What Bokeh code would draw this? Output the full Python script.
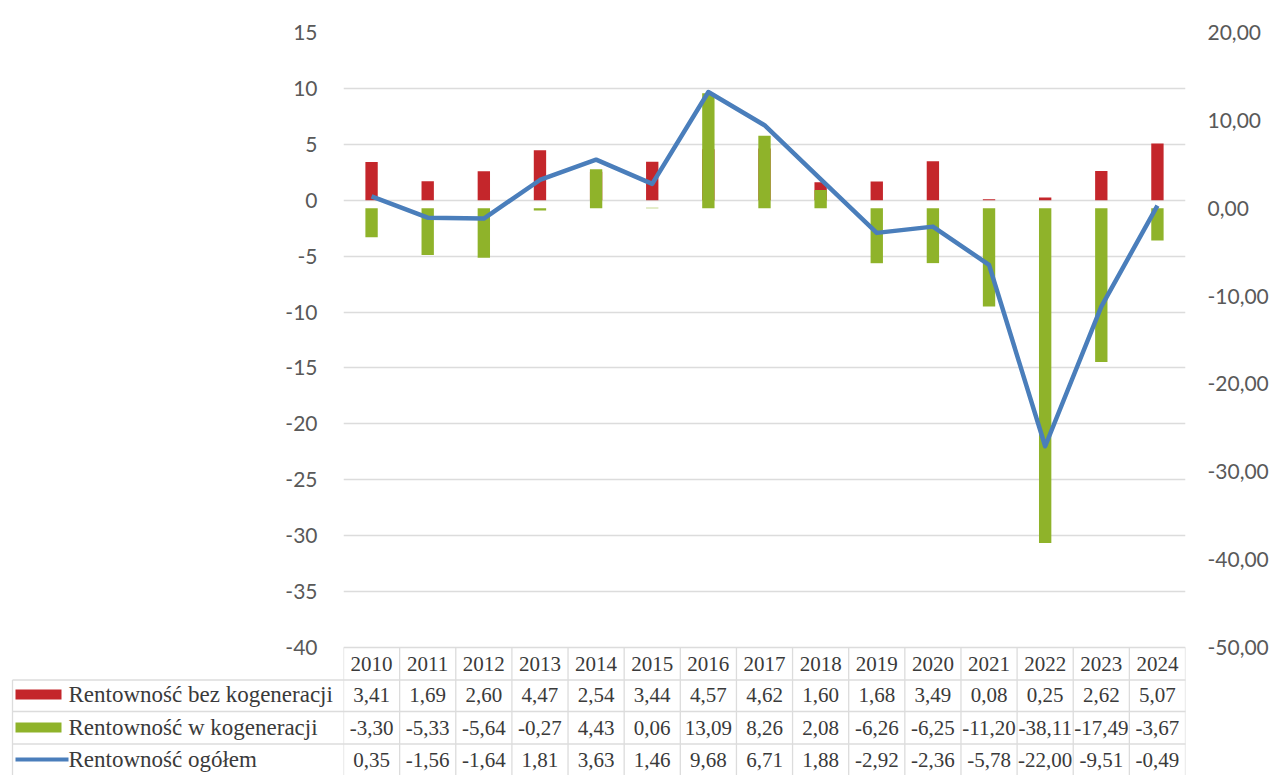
from bokeh.plotting import figure
from bokeh.models import ColumnDataSource, Range1d, LinearAxis, FixedTicker, FactorRange
from bokeh.embed import file_html
from bokeh.resources import INLINE
from bokeh.core.properties import value

# ---------------- data ----------------
years = ["2010", "2011", "2012", "2013", "2014", "2015", "2016", "2017",
         "2018", "2019", "2020", "2021", "2022", "2023", "2024"]
bez_kogeneracji = [3.41, 1.69, 2.60, 4.47, 2.54, 3.44, 4.57, 4.62, 1.60, 1.68, 3.49, 0.08, 0.25, 2.62, 5.07]
w_kogeneracji = [-3.30, -5.33, -5.64, -0.27, 4.43, 0.06, 13.09, 8.26, 2.08, -6.26, -6.25, -11.20, -38.11, -17.49, -3.67]
ogolem = [0.35, -1.56, -1.64, 1.81, 3.63, 1.46, 9.68, 6.71, 1.88, -2.92, -2.36, -5.78, -22.00, -9.51, -0.49]
series_names = ["Rentowność bez kogeneracji", "Rentowność w kogeneracji", "Rentowność ogółem"]
left_ticks = [15, 10, 5, 0, -5, -10, -15, -20, -25, -30, -35, -40]
left_tick_labels = ["15", "10", "5", "0", "-5", "-10", "-15", "-20", "-25", "-30", "-35", "-40"]
right_ticks = [20, 10, 0, -10, -20, -30, -40, -50]
right_tick_labels = ["20,00", "10,00", "0,00", "-10,00", "-20,00", "-30,00", "-40,00", "-50,00"]

# ---------------- layout constants (pixels) ----------------
W, H = 1272, 775
FL, FR = 343, 1185          # plot frame left / right
FT = 32                     # top gridline (15 / 20,00)
FB_GRID = 647               # bottom gridline (-40 / -50,00)
HEADER_Y = 663
ROW_Y = [694, 727, 759]
ROW_LINES = [679.5, 711, 743.5]
LEG_L = 12
CW = (FR - FL) / len(years)

RED = "#c4262b"
GREEN = "#8fb32a"
BLUE = "#4a7ebb"
GRID = "#dcdcdc"
AX_TXT = "#595959"
TBL_TXT = "#3a3a3a"
SERIF = "Liberation Serif"
SANS = "Lato"

lmin, lmax = left_ticks[-1], left_ticks[0]
rmin, rmax = right_ticks[-1], right_ticks[0]
lppu = (FB_GRID - FT) / (lmax - lmin)
rppu = (FB_GRID - FT) / (rmax - rmin)
left_start = lmin - (H - FB_GRID) / lppu
right_start = rmin - (H - FB_GRID) / rppu


def yl(px):
    return lmax - (px - FT) / lppu


def xc(px):
    return (px - FL) / CW


src = ColumnDataSource(dict(year=years, bez=bez_kogeneracji, wk=w_kogeneracji, og=ogolem))

p = figure(width=W, height=H, output_backend="svg", toolbar_location=None,
           x_range=FactorRange(factors=years, range_padding=0, factor_padding=0),
           y_range=Range1d(left_start, lmax),
           min_border_left=FL, min_border_right=W - FR, min_border_top=FT, min_border_bottom=0,
           x_axis_location=None)
p.extra_y_ranges = {"right": Range1d(right_start, rmax)}
p.outline_line_color = None
p.background_fill_color = "white"
p.border_fill_color = "white"
p.xgrid.visible = False
p.ygrid.ticker = FixedTicker(ticks=left_ticks)
p.ygrid.grid_line_color = GRID
p.ygrid.grid_line_width = 1.3

ax = p.yaxis[0]
ax.ticker = FixedTicker(ticks=left_ticks)
ax.major_label_overrides = {t: l for t, l in zip(left_ticks, left_tick_labels)}

rax = LinearAxis(y_range_name="right", ticker=FixedTicker(ticks=right_ticks))
rax.major_label_overrides = {t: l for t, l in zip(right_ticks, right_tick_labels)}
p.add_layout(rax, "right")

for a, stand in ((ax, 26), (rax, 22)):
    a.axis_line_color = None
    a.major_tick_line_color = None
    a.minor_tick_line_color = None
    a.major_tick_out = 0
    a.major_tick_in = 0
    a.minor_tick_out = 0
    a.major_label_standoff = stand
    a.major_label_text_font = SANS
    a.major_label_text_font_size = "21px"
    a.major_label_text_color = AX_TXT

BW = 0.22
p.vbar(x="year", top="bez", bottom=0, width=BW, source=src, fill_color=RED, line_color=None)
p.vbar(x="year", top="wk", bottom=0, width=BW, source=src, fill_color=GREEN, line_color=None,
       y_range_name="right")
p.line(x="year", y="og", source=src, line_color=BLUE, line_width=4.5, line_join="round")

# ---------------- data table ----------------
bounds = list(range(len(years) + 1))
p.segment(x0=bounds, x1=bounds, y0=lmin, y1=left_start, line_color=GRID, line_width=1.3)
p.segment(x0=[xc(LEG_L)] * 3, x1=[len(years)] * 3, y0=[yl(v) for v in ROW_LINES],
          y1=[yl(v) for v in ROW_LINES], line_color=GRID, line_width=1.3, level="overlay")
p.segment(x0=[xc(LEG_L)], x1=[xc(LEG_L)], y0=[yl(ROW_LINES[0])], y1=[left_start],
          line_color=GRID, line_width=1.3, level="overlay")

p.text(x="year", y=yl(HEADER_Y), text="year", source=src, text_align="center",
       text_baseline="middle", text_font=value(SERIF), text_font_size="21px", text_color=TBL_TXT)

xs = [i + 0.5 for i in range(len(years))]
for vals, ry in zip((bez_kogeneracji, w_kogeneracji, ogolem), ROW_Y):
    labels = [f"{v:.2f}".replace(".", ",") for v in vals]
    p.text(x=xs, y=[yl(ry)] * len(xs), text=labels, text_align="center", text_baseline="middle",
           text_font=value(SERIF), text_font_size="21px", text_color=TBL_TXT)

# legend column
sw0, sw1 = xc(15), xc(61)
p.rect(x=[(sw0 + sw1) / 2] * 2, y=[yl(v) for v in ROW_Y[:2]], width=sw1 - sw0,
       height=10 / lppu, fill_color=[RED, GREEN], line_color=None, level="overlay")
p.segment(x0=[sw0], x1=[xc(68)], y0=[yl(ROW_Y[2])], y1=[yl(ROW_Y[2])], line_color=BLUE,
          line_width=4, level="overlay")
p.text(x=[xc(68)] * 3, y=[yl(v) for v in ROW_Y], text=series_names, text_align="left",
       text_baseline="middle", text_font=value(SERIF), text_font_size="23px", text_color=TBL_TXT,
       level="overlay")

open("out.html", "w").write(file_html(p, INLINE))
